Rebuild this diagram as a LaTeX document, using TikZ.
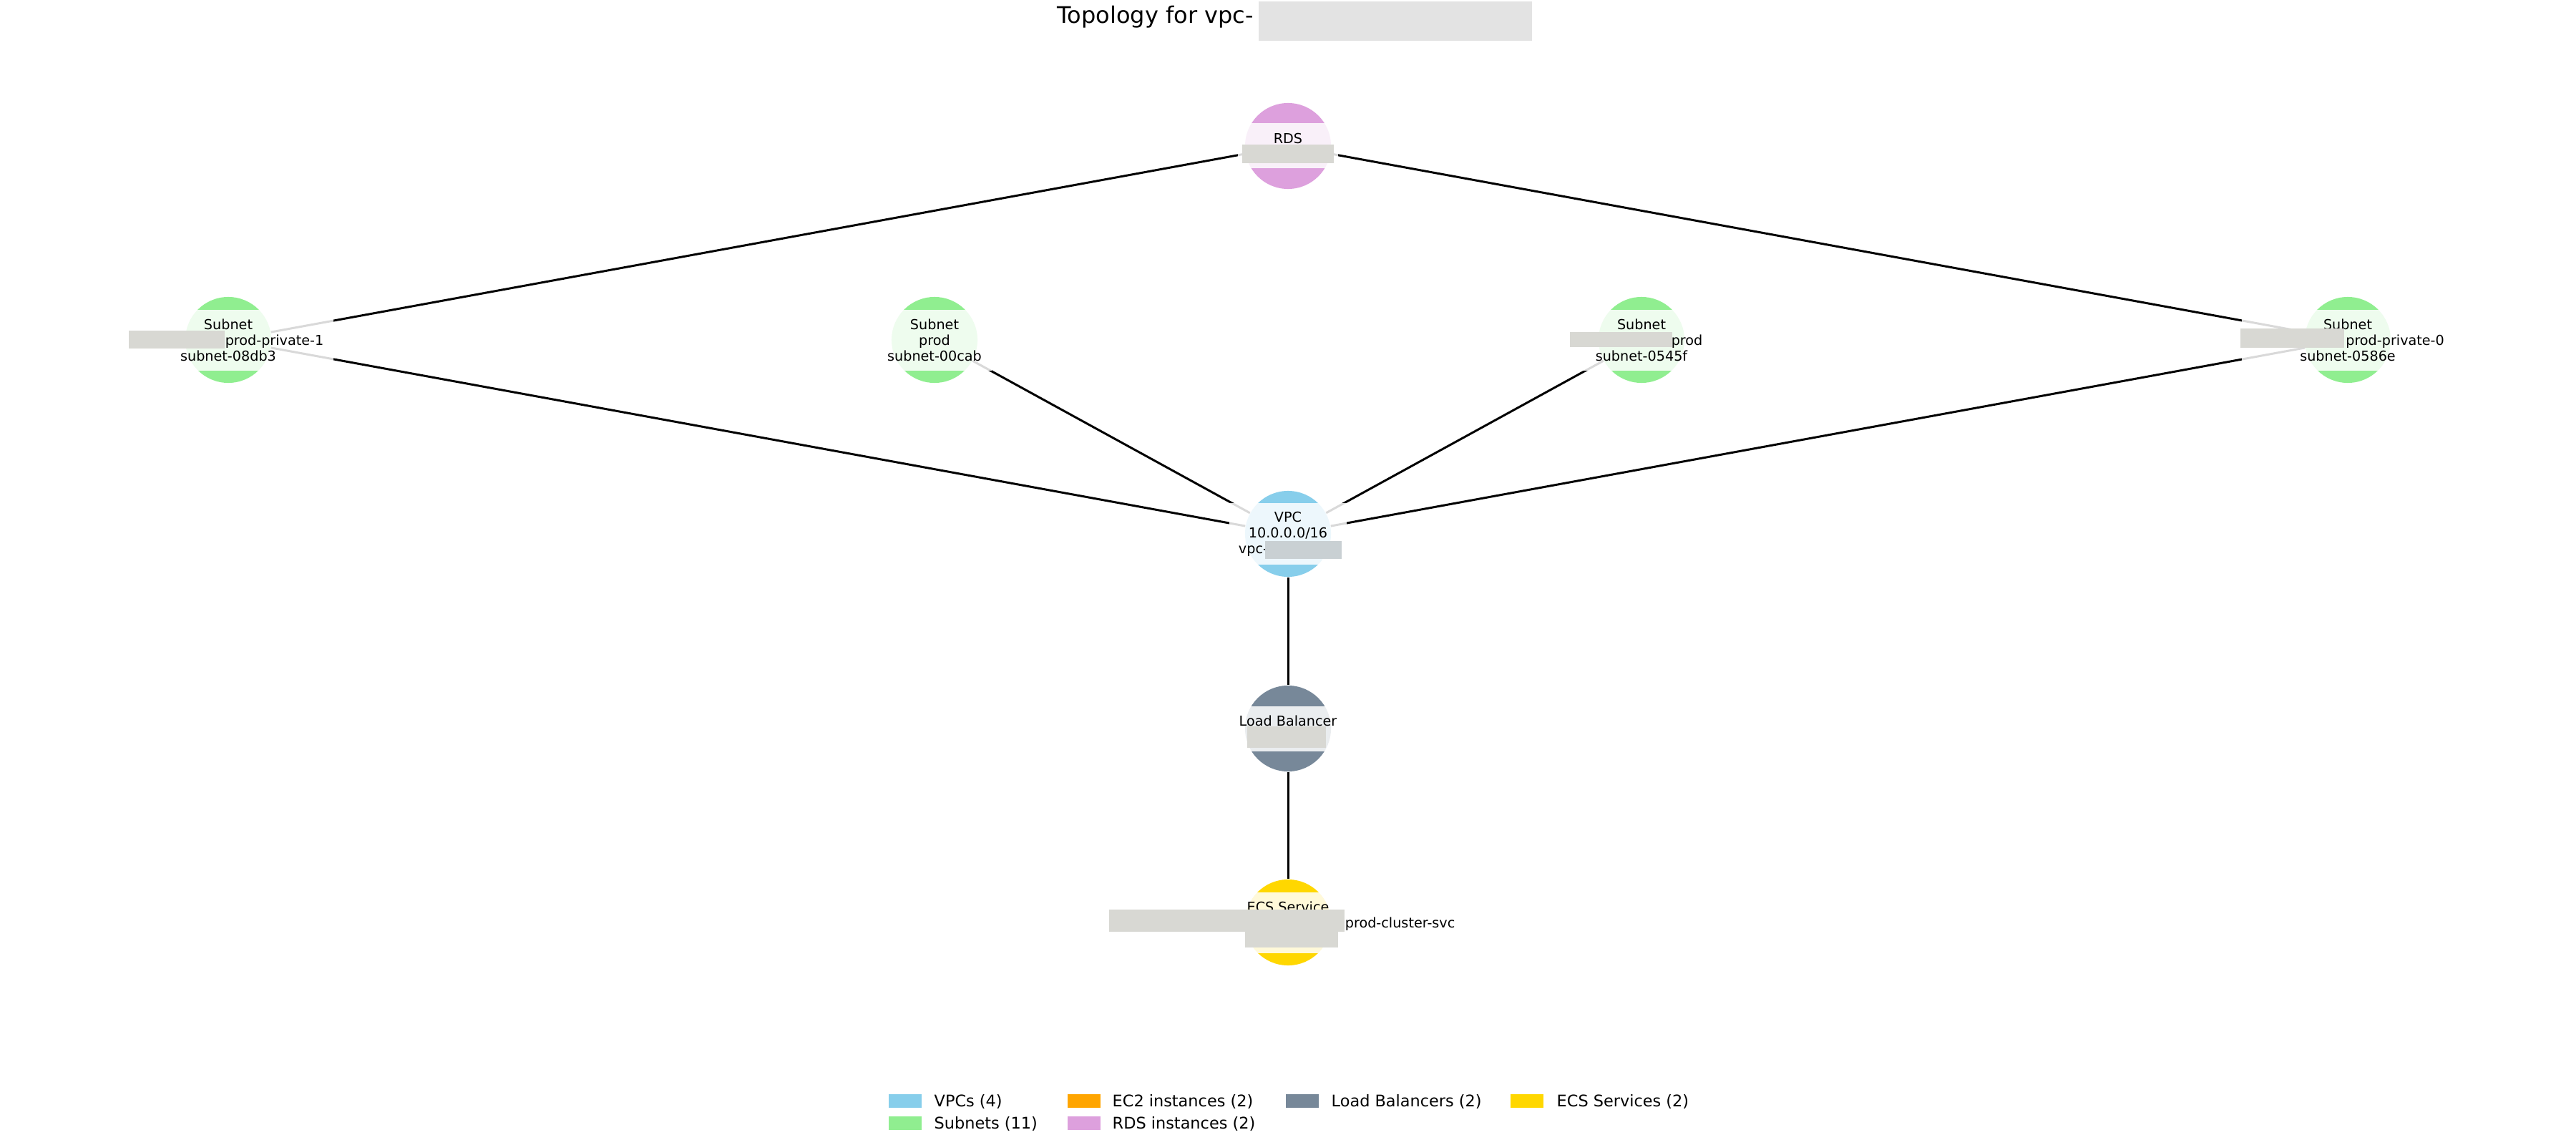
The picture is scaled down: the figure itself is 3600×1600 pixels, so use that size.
\documentclass[tikz,border=0pt]{standalone}
\usepackage{fontspec}
\setmainfont{DejaVu Sans}
\definecolor{vpcc}{HTML}{87CEEB}
\definecolor{subc}{HTML}{90EE90}
\definecolor{ec2c}{HTML}{FFA500}
\definecolor{rdsc}{HTML}{DDA0DD}
\definecolor{lbc}{HTML}{778899}
\definecolor{ecsc}{HTML}{FFD700}
\definecolor{redc}{HTML}{D8D8D3}
\definecolor{redt}{HTML}{E3E3E3}
\definecolor{redv}{HTML}{C9D0D3}
\newcommand{\myNodeFont}{\fontsize{5.46pt}{6.26pt}\selectfont}
\newcommand{\myLegFont}{\fontsize{6.37pt}{7.2pt}\selectfont}
\newcommand{\myTitleFont}{\fontsize{9.1pt}{10.5pt}\selectfont}
\begin{document}
\begin{tikzpicture}[x=0.01cm,y=-0.01cm,
  res/.style={circle,minimum size=1.2cm,inner sep=0pt,draw=none},
  edge/.style={draw=black,line width=0.85pt},
  band/.style={fill=white,fill opacity=0.85},
  lbl/.style={align=center,inner sep=0pt,font=\myNodeFont,text=black},
  redact/.style={fill=redc},
  patch/.style={rectangle,minimum width=0.46cm,minimum height=0.19cm,inner sep=0pt,draw=none},
  legtxt/.style={anchor=base west,inner sep=0pt,font=\myLegFont,text=black}]
\useasboundingbox (0,0) rectangle (3600,1600);
\fill[white] (0,0) rectangle (3600,1600);

% resource circles
\node[res,fill=rdsc] (rds) at (1800,204) {};
\node[res,fill=subc] (s1) at (319,475) {};
\node[res,fill=subc] (s2) at (1306,475) {};
\node[res,fill=subc] (s3) at (2294,475) {};
\node[res,fill=subc] (s4) at (3281,475) {};
\node[res,fill=vpcc] (vpc) at (1800,746) {};
\node[res,fill=lbc] (lb) at (1800,1018) {};
\node[res,fill=ecsc] (ecs) at (1800,1289) {};

% connectors
\draw[edge] (rds) -- (s1);
\draw[edge] (rds) -- (s4);
\draw[edge] (vpc) -- (s1);
\draw[edge] (vpc) -- (s2);
\draw[edge] (vpc) -- (s3);
\draw[edge] (vpc) -- (s4);
\draw[edge] (vpc) -- (lb);
\draw[edge] (lb) -- (ecs);

% label bands
\fill[band] (1730,172) rectangle (1870,235);
\fill[band] (173,433) rectangle (466,518);
\fill[band] (1227,433) rectangle (1386,518);
\fill[band] (2199,433) rectangle (2390,518);
\fill[band] (3133,433) rectangle (3429,518);
\fill[band] (1718,703) rectangle (1882,789);
\fill[band] (1719,987) rectangle (1882,1050);
\fill[band] (1545,1247) rectangle (2055,1332);

% labels
\node[lbl] (rdst) at (rds) {RDS\\\mbox{}};
\node[lbl] (s1t) at (s1) {Subnet\\\hspace*{1.29cm}prod-private-1\\subnet-08db3};
\node[lbl] (s2t) at (s2) {Subnet\\prod\\subnet-00cab};
\node[lbl] (s3t) at (s3) {Subnet\\\hspace*{1.27cm}prod\\subnet-0545f};
\node[lbl] (s4t) at (s4) {Subnet\\\hspace*{1.32cm}prod-private-0\\subnet-0586e};
\node[lbl] (vpct) at (vpc) {VPC\\10.0.0.0/16\\vpc-\hspace*{0.97cm}};
\node[lbl] (lbt) at (lb) {Load Balancer\\\mbox{}};
\node[lbl] (ecst) at (ecs) {ECS Service\\\hspace*{3.13cm}prod-cluster-svc\\\mbox{}};

% redactions
\fill[redact] (1736,202) rectangle (1864,228);
\fill[redact] (180,462) rectangle (314,487);
\fill[redact] (2194,464) rectangle (2337,485);
\fill[redact] (3131,459) rectangle (3276,486);
\fill[redv] (1768,756) rectangle (1875,781);
\fill[redact] (1743,1015) rectangle (1853,1045);
\fill[redact] (1550,1271) rectangle (1879,1302);
\fill[redact] (1740,1302) rectangle (1870,1324);

% title
\node[anchor=base west,inner sep=0pt,font=\myTitleFont] (title) at (1477,33) {Topology for vpc-};
\fill[redt] (1759,2) rectangle (2141,57);

% legend
\node[patch,fill=vpcc] (lp1) at (1265,1538.5) {};
\node[legtxt] (lt1) at (1305,1546) {VPCs (4)};
\node[patch,fill=ec2c] (lp2) at (1514.5,1538.5) {};
\node[legtxt] (lt2) at (1554,1546) {EC2 instances (2)};
\node[patch,fill=lbc] (lp3) at (1819.5,1538.5) {};
\node[legtxt] (lt3) at (1860,1546) {Load Balancers (2)};
\node[patch,fill=ecsc] (lp4) at (2134,1538.5) {};
\node[legtxt] (lt4) at (2175,1546) {ECS Services (2)};
\node[patch,fill=subc] (lp5) at (1265,1569.5) {};
\node[legtxt] (lt5) at (1305,1577) {Subnets (11)};
\node[patch,fill=rdsc] (lp6) at (1514.5,1569.5) {};
\node[legtxt] (lt6) at (1554,1577) {RDS instances (2)};
\end{tikzpicture}
\end{document}
